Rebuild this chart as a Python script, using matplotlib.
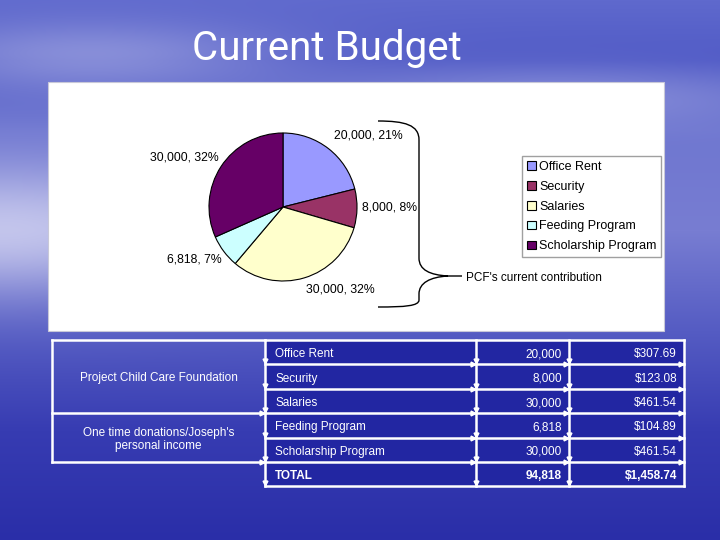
import numpy as np
import matplotlib.pyplot as plt
from matplotlib.path import Path
from matplotlib.patches import PathPatch, Rectangle

W, H = 720, 540

categories = ["Office Rent", "Security", "Salaries", "Feeding Program", "Scholarship Program"]
amounts = [20000, 8000, 30000, 6818, 30000]
pcf_share = [307.69, 123.08, 461.54, 104.89, 461.54]
total_amount = 94818
total_share = 1458.74
pie_colors = ["#9999FF", "#993366", "#FFFFCC", "#CCFFFF", "#660066"]
sources = ["Project Child Care Foundation", "One time donations/Joseph's\npersonal income"]
source_rows = [3, 2]

# pie label anchor points (pixels)
label_pos = [(368, 135), (390, 207), (340, 289), (194, 260), (184, 157)]

plt.rcParams["font.family"] = ["Liberation Sans", "DejaVu Sans"]

fig = plt.figure(figsize=(7.2, 5.4), dpi=100)
ax = fig.add_axes([0, 0, 1, 1])
ax.set_xlim(0, W)
ax.set_ylim(H, 0)
ax.axis("off")

# --- sky / sea background ---
yy, xx = np.mgrid[0:H, 0:W].astype(float)
stops_y = [0, 60, 130, 230, 330, 430, 540]
stops_c = np.array([(95, 105, 205), (80, 90, 198), (110, 118, 208), (120, 125, 210),
                    (85, 92, 195), (55, 60, 178), (42, 46, 168)], dtype=float)
base = np.stack([np.interp(yy, stops_y, stops_c[:, k]) for k in range(3)], axis=-1)
glow = np.exp(-((xx / 240.0) ** 2) - ((yy - 230) / 65.0) ** 2) * 0.65
cloud = np.exp(-(((xx - 90) / 200.0) ** 2) - ((yy - 55) / 35.0) ** 2) * 0.35
cloud2 = np.exp(-(((xx - 560) / 220.0) ** 2) - ((yy - 95) / 30.0) ** 2) * 0.25
g = np.clip(glow + cloud + cloud2, 0, 1)[..., None]
img = base + (np.array([235, 235, 250]) - base) * g
ax.imshow(img.astype(np.uint8), extent=(0, W, H, 0), zorder=0, aspect="auto")

ax.text(327, 48, "Current Budget", ha="center", va="center", fontsize=29,
        family="Roboto", color="white", zorder=3)

# --- white chart panel ---
ax.add_patch(Rectangle((48, 82), 616, 249, facecolor="white", edgecolor="#c8c8d8",
                       linewidth=0.8, zorder=1))

# --- pie ---
cx, cy, r = 283, 207, 74
pax = fig.add_axes([(cx - 100) / W, (H - cy - 100) / H, 200 / W, 200 / H])
wedges, _ = pax.pie(amounts, colors=pie_colors, startangle=90, counterclock=False,
                    radius=r / 100, center=(0, 0),
                    wedgeprops=dict(edgecolor="black", linewidth=0.8))
pax.set_xlim(-1, 1)
pax.set_ylim(-1, 1)
pax.set_aspect("equal")
pax.axis("off")
tot = sum(amounts)
for a, (lx, ly) in zip(amounts, label_pos):
    ax.text(lx, ly, f"{a:,}, {round(100 * a / tot)}%", ha="center", va="center",
            fontsize=8.8, color="black", zorder=3)

# --- brace ---
verts = [(378, 121), (405, 121), (419, 125), (419, 140),
         (419, 258),
         (419, 270), (430, 275), (448, 276),
         (462, 276),
         (448, 276), (430, 277), (419, 283), (419, 294),
         (419, 300),
         (419, 306), (405, 307), (378, 307)]
codes = [Path.MOVETO, Path.CURVE4, Path.CURVE4, Path.CURVE4,
         Path.LINETO,
         Path.CURVE4, Path.CURVE4, Path.CURVE4,
         Path.LINETO,
         Path.MOVETO, Path.CURVE4, Path.CURVE4, Path.CURVE4,
         Path.LINETO,
         Path.CURVE4, Path.CURVE4, Path.CURVE4]
ax.add_patch(PathPatch(Path(verts, codes), facecolor="none", edgecolor="black",
                       linewidth=1.0, zorder=3))
ax.text(466, 278, "PCF's current contribution", ha="left", va="center",
        fontsize=8.5, color="black", zorder=3)

# --- legend ---
leg = ax.legend(wedges, categories, loc="upper left", bbox_to_anchor=(522, 156),
                bbox_transform=ax.transData, fontsize=9.0, frameon=True,
                fancybox=False, edgecolor="#a0a0a0", framealpha=1,
                handlelength=0.7, handleheight=0.7, handletextpad=0.3,
                labelspacing=0.63, borderpad=0.38, borderaxespad=0)
leg.get_frame().set_linewidth(1.0)
leg.set_zorder(4)

# --- table ---
xs = [52, 265, 476, 569, 684]
top, row_h = 340, 24.4
n_rows = len(categories) + 1
ys = [top + i * row_h for i in range(n_rows + 1)]
ax.add_patch(Rectangle((xs[1], top), xs[-1] - xs[1], ys[-1] - top,
                       facecolor="#2226a2", edgecolor="none", zorder=1))
lw = 1.8
for yb in ys:
    ax.plot([xs[1], xs[-1]], [yb, yb], color="white", lw=lw, zorder=2,
            solid_capstyle="projecting")
for x in xs[1:]:
    ax.plot([x, x], [top, ys[-1]], color="white", lw=lw, zorder=2)
src_bounds = [top]
for n in source_rows:
    src_bounds.append(src_bounds[-1] + n * row_h)
for yb in src_bounds:
    ax.plot([xs[0], xs[1]], [yb, yb], color="white", lw=lw, zorder=2)
ax.plot([xs[0], xs[0]], [top, src_bounds[-1]], color="white", lw=lw, zorder=2)

# little arrowheads left over from the slide's connectors
for yb in ys[1:]:
    for x in xs[1:4]:
        ax.plot(x, yb - 3, marker="v", ms=3.5, color="white", zorder=2)
for yb in ys[1:-1]:
    for x in xs[2:]:
        ax.plot(x - 3, yb, marker=">", ms=3.5, color="white", zorder=2)
for yb in src_bounds[1:]:
    ax.plot(xs[1] - 3, yb, marker=">", ms=3.5, color="white", zorder=2)

for i, (name, n) in enumerate(zip(sources, source_rows)):
    ymid = (src_bounds[i] + src_bounds[i + 1]) / 2 + 1.5
    ax.text((xs[0] + xs[1]) / 2, ymid, name, ha="center", va="center",
            fontsize=8.5, color="white", linespacing=1.1, zorder=3)

row_names = categories + ["TOTAL"]
row_amounts = [f"{a:,}" for a in amounts] + [f"{total_amount:,}"]
row_share = [f"${v:,.2f}" for v in pcf_share] + [f"${total_share:,.2f}"]
for i in range(n_rows):
    base_y = (ys[i] + ys[i + 1]) / 2 + 5
    wt = "bold" if i == n_rows - 1 else "normal"
    ax.text(xs[1] + 10, base_y, row_names[i], ha="left", va="baseline", fontsize=8.5,
            color="white", fontweight=wt, zorder=3)
    ax.text(xs[3] - 7, base_y, row_amounts[i], ha="right", va="baseline", fontsize=8.5,
            color="white", fontweight=wt, zorder=3)
    ax.text(xs[4] - 7, base_y, row_share[i], ha="right", va="baseline", fontsize=8.5,
            color="white", fontweight=wt, zorder=3)

fig.savefig("out.png", dpi=100)
